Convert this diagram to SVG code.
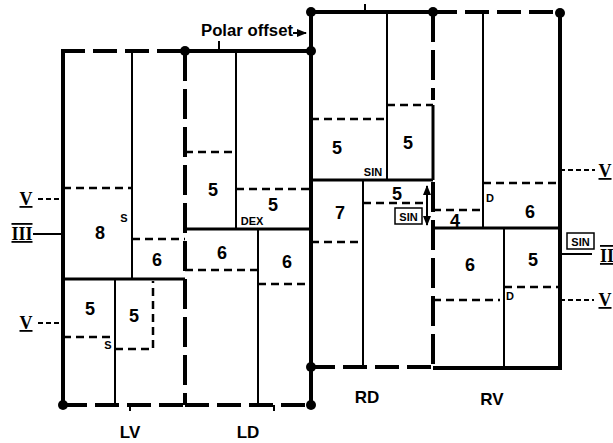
<svg xmlns="http://www.w3.org/2000/svg" width="613" height="443" viewBox="0 0 613 443">
<style>
.thick{stroke:#000;stroke-width:4;fill:none}
.thickd{stroke:#000;stroke-width:4;fill:none;stroke-dasharray:24 8}
.thickdv{stroke:#000;stroke-width:4;fill:none;stroke-dasharray:30 8}
.mid{stroke:#000;stroke-width:3;fill:none}
.thin{stroke:#000;stroke-width:2;fill:none}
.dash{stroke:#000;stroke-width:2.5;fill:none;stroke-dasharray:8 5}
.ldash{stroke:#000;stroke-width:2;fill:none;stroke-dasharray:5 3}
.num{font-family:"Liberation Sans",Arial,sans-serif;font-weight:bold;font-size:18px;text-anchor:middle}
.sm{font-family:"Liberation Sans",Arial,sans-serif;font-weight:bold;font-size:11px;text-anchor:middle}
.lab{font-family:"Liberation Sans",Arial,sans-serif;font-weight:bold;font-size:17px;text-anchor:middle}
.rom{font-family:"Liberation Serif","Times New Roman",serif;font-weight:bold;font-size:18px;text-anchor:middle}
</style>
<defs>
<marker id="ah" viewBox="0 0 10 10" refX="9" refY="5" markerWidth="5" markerHeight="5" orient="auto-start-reverse"><path d="M0,1 L10,5 L0,9 z" fill="#000"/></marker>
</defs>
<rect width="613" height="443" fill="#fff"/>
<g id="LV">
<path class="thick" d="M63,51 V405"/>
<path class="thickd" d="M61,51 H185"/>
<path class="thickdv" d="M185,51 V405"/>
<path class="thickd" d="M63,405 H185"/>
<path class="thin" d="M132,51 V279"/>
<path class="dash" d="M63,188 H132"/>
<path class="dash" d="M132,239 H185"/>
<path class="mid" d="M63,279 H185"/>
<path class="thin" d="M115,279 V405"/>
<path class="dash" d="M63,337 H111"/>
<path class="dash" d="M115,349 H153 V281"/>
<path class="thin" d="M130,405 V411"/>
<circle cx="63" cy="405" r="5"/>
<circle cx="185" cy="51" r="5"/>
<text class="num" x="100" y="239">8</text>
<text class="sm" x="124" y="222">S</text>
<text class="num" x="157" y="266">6</text>
<text class="num" x="90" y="315">5</text>
<text class="num" x="134" y="322">5</text>
<text class="sm" x="108" y="349">S</text>
</g>
<g id="LD">
<path class="thick" d="M185,51 H311"/>
<path class="thin" d="M219,41 V51"/>
<path class="thick" d="M311,12 V405"/>
<path class="thin" d="M236,51 V229"/>
<path class="dash" d="M185,152 H235"/>
<path class="dash" d="M236,189 H311"/>
<path class="mid" d="M185,229 H311"/>
<path class="thin" d="M258,229 V405"/>
<path class="dash" d="M185,270 H258"/>
<path class="dash" d="M258,284 H311"/>
<path class="thickd" d="M185,405 H311"/>
<path class="thin" d="M274,405 V411"/>
<circle cx="311" cy="12" r="5"/>
<circle cx="311" cy="51" r="5"/>
<circle cx="311" cy="367" r="5"/>
<circle cx="311" cy="405" r="5"/>
<text class="num" x="213" y="196">5</text>
<text class="num" x="273" y="211">5</text>
<text class="sm" x="252" y="225">DEX</text>
<text class="num" x="222" y="259">6</text>
<text class="num" x="287" y="268">6</text>
</g>
<g id="RD">
<path class="thick" d="M311,12 H433"/>
<path class="thin" d="M365,4 V12"/>
<path class="thin" d="M387,12 V180"/>
<path class="dash" d="M311,119 H387"/>
<path class="dash" d="M387,105 H433"/>
<path class="thickdv" d="M433,12 V100"/>
<path class="mid" d="M433,105 V180"/>
<path class="mid" d="M311,180 H433"/>
<path class="thin" d="M363,180 V367"/>
<path class="dash" d="M311,242 H363"/>
<path class="dash" d="M363,203 H425"/>
<path class="thickdv" d="M433,182 V367"/>
<path class="thickd" d="M311,367 H433"/>
<path class="thin" d="M427,186 V225" marker-start="url(#ah)" marker-end="url(#ah)"/>
<rect x="395" y="208" width="27" height="16" fill="#fff" stroke="#000" stroke-width="1.5"/>
<circle cx="433" cy="12" r="5"/>
<text class="num" x="337" y="154">5</text>
<text class="num" x="408" y="149">5</text>
<text class="sm" x="373" y="176">SIN</text>
<text class="num" x="340" y="219">7</text>
<text class="num" x="397" y="200">5</text>
<text class="sm" x="408.5" y="220.5">SIN</text>
</g>
<g id="RV">
<path class="thickd" d="M433,12 H560"/>
<path class="thin" d="M483,12 V228"/>
<path class="thick" d="M560,13 V370"/>
<path class="dash" d="M483,183 H558"/>
<path class="dash" d="M433,210 H483"/>
<path class="mid" d="M433,228 H560"/>
<path class="thin" d="M504,228 V368"/>
<path class="dash" d="M504,287 H560"/>
<path class="dash" d="M433,300 H500"/>
<path class="thick" d="M433,368 H562"/>
<circle cx="560" cy="13" r="5"/>
<text class="sm" x="490" y="202">D</text>
<text class="num" x="530" y="218">6</text>
<text class="num" x="455" y="227">4</text>
<text class="num" x="470" y="271">6</text>
<text class="num" x="533" y="266">5</text>
<text class="sm" x="510" y="300">D</text>
</g>
<g id="connectors">
<path class="ldash" d="M38,199 H63"/>
<path class="thin" d="M33,234 H63"/>
<path class="ldash" d="M38,323 H63"/>
<path class="ldash" d="M560,170 H595"/>
<path class="thin" d="M562,254 H592"/>
<path class="ldash" d="M560,300 H594"/>
<path class="thin" d="M293,33 H306" marker-end="url(#ah)"/>
<rect x="567" y="233" width="27" height="16" fill="#fff" stroke="#000" stroke-width="1.5"/>
</g>
<g id="labels">
<text class="rom" x="26" y="205" text-decoration="underline">V</text>
<text class="rom" x="22" y="240" text-decoration="overline underline">III</text>
<text class="rom" x="26" y="329" text-decoration="underline">V</text>
<text class="rom" x="605" y="177" text-decoration="underline">V</text>
<text class="rom" x="607" y="262" text-decoration="overline underline">II</text>
<text class="rom" x="605" y="306" text-decoration="underline">V</text>
<text class="sm" x="580.5" y="245.5">SIN</text>
<text style="font-family:'Liberation Sans',Arial,sans-serif;font-weight:bold;font-size:16px" x="201" y="36" textLength="92" lengthAdjust="spacingAndGlyphs">Polar offset</text>
<text class="lab" x="130" y="438">LV</text>
<text class="lab" x="248" y="438">LD</text>
<text class="lab" x="367" y="403">RD</text>
<text class="lab" x="492" y="405">RV</text>
</g>
</svg>
